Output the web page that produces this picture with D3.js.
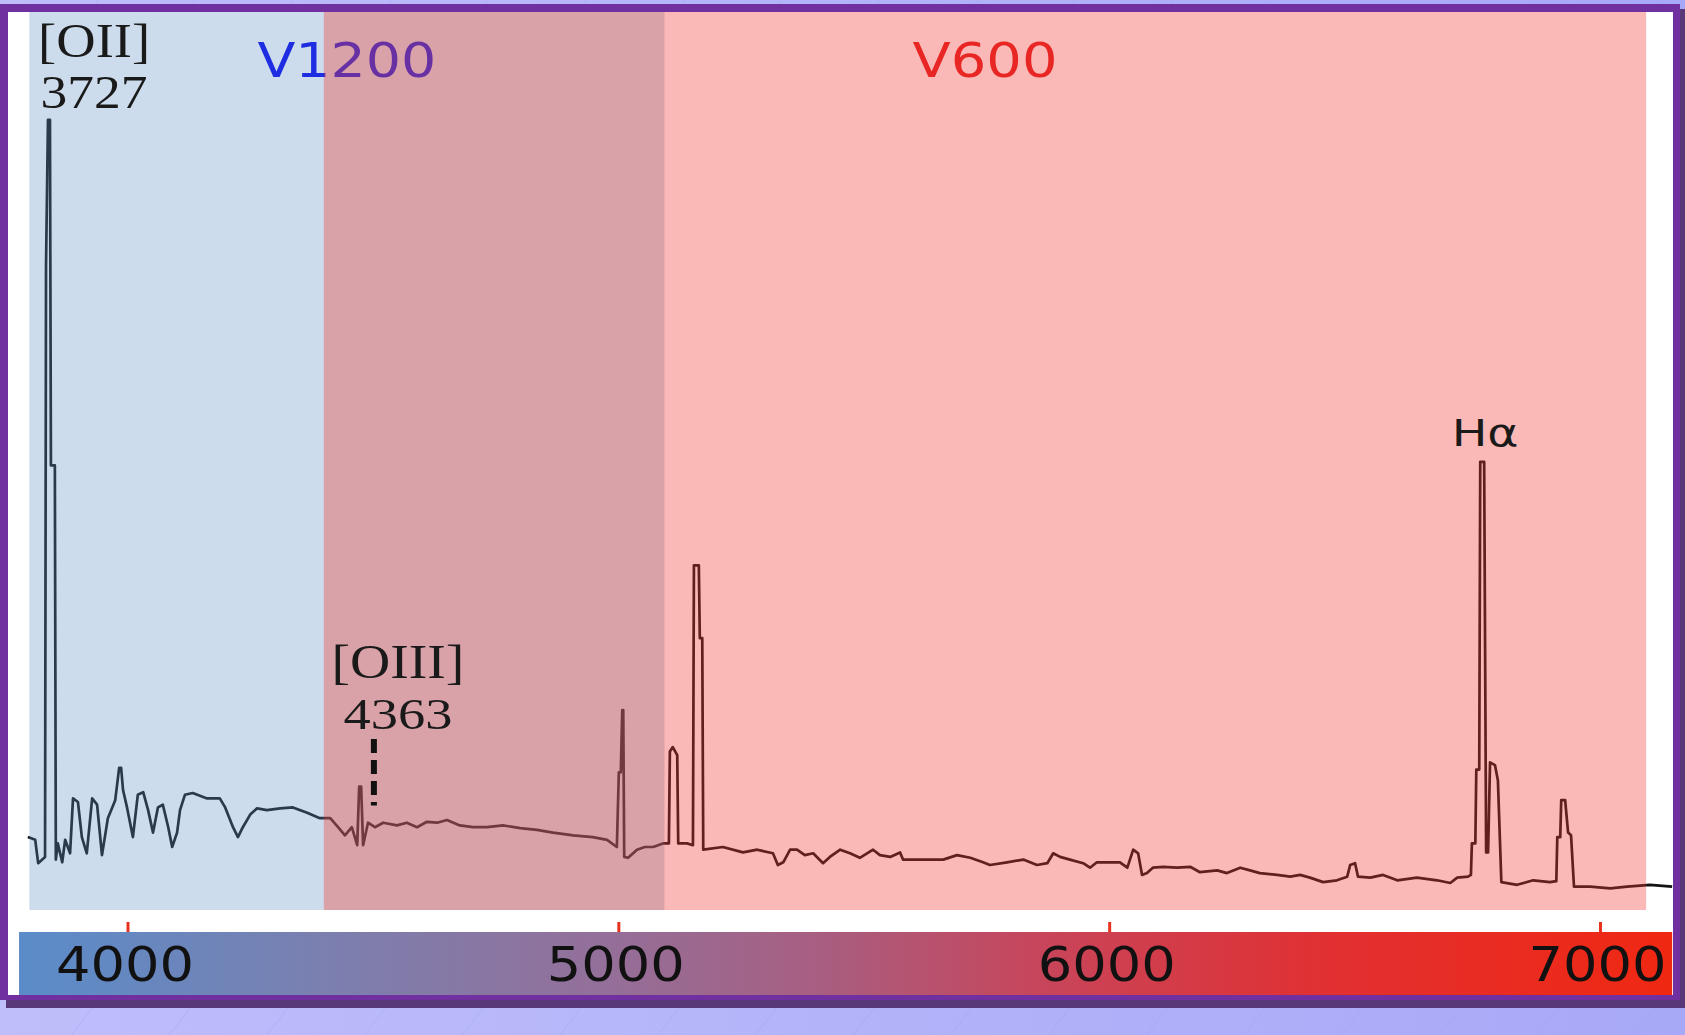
<!DOCTYPE html>
<html>
<head>
<meta charset="utf-8">
<script src="https://cdn.jsdelivr.net/npm/d3@7"></script>
<style>
  html, body { margin: 0; padding: 0; background: #b8b8fa; }
  svg { display: block; }
</style>
</head>
<body>
<div id="chart"></div>
<script>
const wavelength = [
  3797, 3812, 3818, 3832, 3834, 3838, 3842, 3844, 3852, 3854, 3858, 3867, 3873, 3883, 3889, 3899,
  3907, 3917, 3928, 3938, 3948, 3960, 3975, 3983, 3987, 3991, 3999, 4011, 4021, 4032, 4042, 4052,
  4062, 4072, 4083, 4091, 4101, 4107, 4117, 4133, 4162, 4188, 4199, 4215, 4225, 4235, 4250, 4264,
  4284, 4311, 4337, 4366, 4392, 4413, 4429, 4443, 4457, 4468, 4472, 4476, 4480, 4490, 4504, 4521,
  4549, 4569, 4590, 4610, 4631, 4651, 4677, 4704, 4732, 4765, 4800, 4834, 4867, 4908, 4948, 4977,
  4997, 5001, 5005, 5008, 5010, 5012, 5020, 5038, 5054, 5071, 5091, 5103, 5105, 5111, 5116, 5120,
  5122, 5140, 5152, 5154, 5164, 5166, 5171, 5173, 5213, 5254, 5283, 5315, 5325, 5336, 5350, 5364,
  5380, 5397, 5417, 5431, 5452, 5472, 5492, 5519, 5533, 5554, 5574, 5580, 5609, 5635, 5662, 5690,
  5717, 5743, 5757, 5792, 5825, 5853, 5874, 5886, 5900, 5920, 5947, 5961, 5975, 5996, 6022, 6037,
  6049, 6059, 6067, 6077, 6089, 6110, 6138, 6165, 6185, 6220, 6240, 6267, 6287, 6307, 6342, 6369,
  6389, 6409, 6436, 6464, 6485, 6491, 6501, 6507, 6532, 6558, 6587, 6627, 6668, 6695, 6709, 6731,
  6737, 6739, 6746, 6748, 6754, 6756, 6764, 6768, 6772, 6776, 6786, 6792, 6799, 6831, 6864, 6898,
  6911, 6913, 6919, 6921, 6929, 6935, 6941, 6947, 6980, 7021, 7055, 7102, 7147
];
const flux = [
  8.1, 7.8, 5.2, 5.9, 71.6, 87.8, 87.8, 49.4, 49.4, 5.6, 7.4, 5.3, 7.8, 6.3, 12.4, 12.0,
  8.1, 6.3, 12.4, 11.7, 6.1, 10.2, 12.2, 15.8, 15.8, 13.3, 11.4, 8.1, 12.8, 13.1, 11.1, 8.6,
  11.4, 11.7, 9.2, 7.0, 8.6, 11.1, 12.8, 13.0, 12.4, 12.4, 11.4, 9.2, 8.1, 9.2, 10.6, 11.3,
  11.1, 11.3, 11.4, 10.8, 10.2, 10.2, 9.2, 8.3, 9.2, 7.2, 13.7, 13.7, 7.2, 9.7, 9.2, 9.7,
  9.4, 9.7, 9.2, 9.8, 9.7, 10.0, 9.4, 9.2, 9.2, 9.4, 9.1, 8.9, 8.6, 8.3, 8.1, 7.8,
  7.0, 15.3, 15.3, 22.2, 22.2, 5.9, 5.8, 6.7, 7.0, 7.0, 7.4, 7.4, 17.6, 18.1, 17.6, 17.2,
  7.4, 7.4, 7.2, 38.3, 38.3, 30.2, 30.2, 6.7, 7.0, 6.4, 6.7, 6.3, 5.0, 5.3, 6.7, 6.7,
  6.1, 6.3, 5.2, 5.9, 6.7, 6.3, 5.8, 6.7, 6.1, 5.9, 6.4, 5.6, 5.6, 5.6, 5.6, 6.1,
  5.8, 5.3, 5.0, 5.3, 5.6, 5.0, 5.2, 6.3, 5.9, 5.6, 5.2, 4.7, 5.3, 5.3, 5.3, 4.7,
  6.7, 6.3, 3.9, 4.1, 4.7, 4.8, 4.7, 4.8, 4.2, 4.4, 4.1, 4.7, 4.4, 4.1, 3.9, 3.7,
  3.9, 3.6, 3.1, 3.3, 3.7, 5.0, 5.2, 3.7, 3.6, 3.9, 3.3, 3.6, 3.3, 3.0, 3.6, 3.7,
  3.9, 7.4, 7.4, 15.6, 15.6, 49.8, 49.8, 6.4, 6.4, 16.4, 16.1, 14.4, 3.1, 2.8, 3.3, 3.1,
  3.2, 8.1, 8.1, 12.2, 12.2, 8.6, 8.3, 2.6, 2.6, 2.4, 2.6, 2.8, 2.6
];

/* grating coverage */
const gratingNames = ["V1200", "V600"];
const gratingStart = [3800, 4400];
const gratingEnd = [5094, 7094];

/* emission line annotations */
const lineNames = ["[OII]", "[OIII]", "H\u03b1"];
const lineWaves = ["3727", "4363", ""];
const lineLabelAt = [3932, 4551, 6766];
const oiii4363Mark = 4502;
const markFlux = [19.0, 11.6];

const tickValues = [4000, 5000, 6000, 7000];
const barRange = [3779, 7147];

const W = 1685, H = 1035;
const plotTop = 12, plotBottom = 910;

const svg = d3.select("#chart").append("svg")
  .attr("width", W).attr("height", H);
const defs = svg.append("defs");

const x = d3.scaleLinear().domain([4000, 7000]).range([127.5, 1600]);
const y = d3.scaleLinear().domain([0, 100]).range([plotBottom, 10]);

/* lavender page with faint diagonal hatching */
const bg = defs.append("linearGradient").attr("id", "bg");
bg.append("stop").attr("offset", 0).attr("stop-color", "#bebefb");
bg.append("stop").attr("offset", 1).attr("stop-color", "#a8a8f8");
const hatch = defs.append("pattern").attr("id", "hatch")
  .attr("width", 77).attr("height", 77).attr("patternUnits", "userSpaceOnUse")
  .attr("patternTransform", "rotate(38)");
hatch.append("line").attr("x1", 0).attr("y1", 0).attr("x2", 0).attr("y2", 77)
  .attr("stroke", "#9a9ae8").attr("stroke-opacity", 0.5).attr("stroke-width", 1);
svg.append("rect").attr("width", W).attr("height", H).attr("fill", "url(#bg)");
svg.append("rect").attr("width", W).attr("height", H).attr("fill", "url(#hatch)");

/* purple frame with shadow */
svg.append("rect").attr("x", 6).attr("y", 9).attr("width", W - 6).attr("height", 999).attr("fill", "#583878");
svg.append("rect").attr("x", 0).attr("y", 4).attr("width", 1680).attr("height", 996).attr("fill", "#7030a0");
svg.append("rect").attr("x", 8).attr("y", 12).attr("width", 1665).attr("height", 983).attr("fill", "#ffffff");

/* grating labels sit under the coloured overlays */
const gratingColor = ["#0000f0", "#e41e1e"];
svg.selectAll("text.grating").data(gratingNames).enter()
  .append("text")
  .attr("class", "grating")
  .attr("x", (d, i) => x((gratingStart[i] + gratingEnd[i]) / 2))
  .attr("y", 77)
  .attr("text-anchor", "middle")
  .attr("font-family", "DejaVu Sans, Verdana, sans-serif")
  .attr("font-size", 48)
  .attr("textLength", (d, i) => i === 0 ? 179 : 145)
  .attr("lengthAdjust", "spacingAndGlyphs")
  .attr("fill", (d, i) => gratingColor[i])
  .text(d => d);

/* the spectrum */
const pts = wavelength.map((w, i) => [w, flux[i]]);
const line = d3.line().x(d => x(d[0])).y(d => y(d[1]));
svg.append("path")
  .datum(pts)
  .attr("d", line)
  .attr("fill", "none")
  .attr("stroke", "#141414")
  .attr("stroke-width", 2.7)
  .attr("stroke-linejoin", "round");

/* translucent grating overlays (their overlap gives the mauve strip) */
const overlayFill = ["rgb(96,143,194)", "rgb(240,54,46)"];
const overlayAlpha = [0.314, 0.35];
svg.selectAll("rect.band").data(gratingNames).enter()
  .append("rect")
  .attr("class", "band")
  .attr("x", (d, i) => x(gratingStart[i]))
  .attr("width", (d, i) => x(gratingEnd[i]) - x(gratingStart[i]))
  .attr("y", plotTop)
  .attr("height", plotBottom - plotTop)
  .attr("fill", (d, i) => overlayFill[i])
  .attr("fill-opacity", (d, i) => overlayAlpha[i]);

/* line annotations */
const serif = "Liberation Serif, Times New Roman, serif";
const ann = svg.append("g").attr("fill", "#1a1a1a").attr("text-anchor", "middle");
ann.append("text").attr("x", x(lineLabelAt[0])).attr("y", 57)
  .attr("font-family", serif).attr("font-size", 49)
  .attr("textLength", 112).attr("lengthAdjust", "spacingAndGlyphs").text(lineNames[0]);
ann.append("text").attr("x", x(lineLabelAt[0])).attr("y", 108)
  .attr("font-family", serif).attr("font-size", 46)
  .attr("textLength", 107).attr("lengthAdjust", "spacingAndGlyphs").text(lineWaves[0]);
ann.append("text").attr("x", x(lineLabelAt[1])).attr("y", 678)
  .attr("font-family", serif).attr("font-size", 48)
  .attr("textLength", 133).attr("lengthAdjust", "spacingAndGlyphs").text(lineNames[1]);
ann.append("text").attr("x", x(lineLabelAt[1])).attr("y", 729)
  .attr("font-family", serif).attr("font-size", 44)
  .attr("textLength", 109).attr("lengthAdjust", "spacingAndGlyphs").text(lineWaves[1]);
ann.append("text").attr("x", x(lineLabelAt[2])).attr("y", 446)
  .attr("font-family", "DejaVu Sans, Verdana, sans-serif").attr("font-size", 38)
  .attr("textLength", 67).attr("lengthAdjust", "spacingAndGlyphs").text(lineNames[2]);
ann.append("line")
  .attr("x1", x(oiii4363Mark)).attr("x2", x(oiii4363Mark))
  .attr("y1", y(markFlux[0])).attr("y2", y(markFlux[1]))
  .attr("stroke", "#111").attr("stroke-width", 6)
  .attr("stroke-dasharray", "14,7");

/* wavelength colour bar */
const bar = defs.append("linearGradient").attr("id", "bar");
[[0, "#5a8cc9"], [0.18, "#7a80b0"], [0.35, "#93709a"], [0.48, "#a75f82"],
 [0.62, "#c8455a"], [0.8, "#e22f30"], [1, "#f02812"]].forEach(s =>
  bar.append("stop").attr("offset", s[0]).attr("stop-color", s[1]));
svg.append("rect")
  .attr("x", x(barRange[0])).attr("y", 932)
  .attr("width", x(barRange[1]) - x(barRange[0])).attr("height", 63)
  .attr("fill", "url(#bar)");

const axis = d3.axisTop(x).tickValues(tickValues).tickSize(10).tickFormat(d3.format("d"));
const axisG = svg.append("g").attr("transform", "translate(0,932)").call(axis);
axisG.select(".domain").remove();
axisG.selectAll(".tick line").attr("stroke", "#e8321e").attr("stroke-width", 3);
axisG.selectAll(".tick text")
  .attr("x", -3)
  .attr("y", 49).attr("dy", 0)
  .attr("fill", "#111")
  .attr("font-family", "DejaVu Sans, Verdana, sans-serif")
  .attr("font-size", 48)
  .attr("textLength", 138).attr("lengthAdjust", "spacingAndGlyphs");
</script>
</body>
</html>
